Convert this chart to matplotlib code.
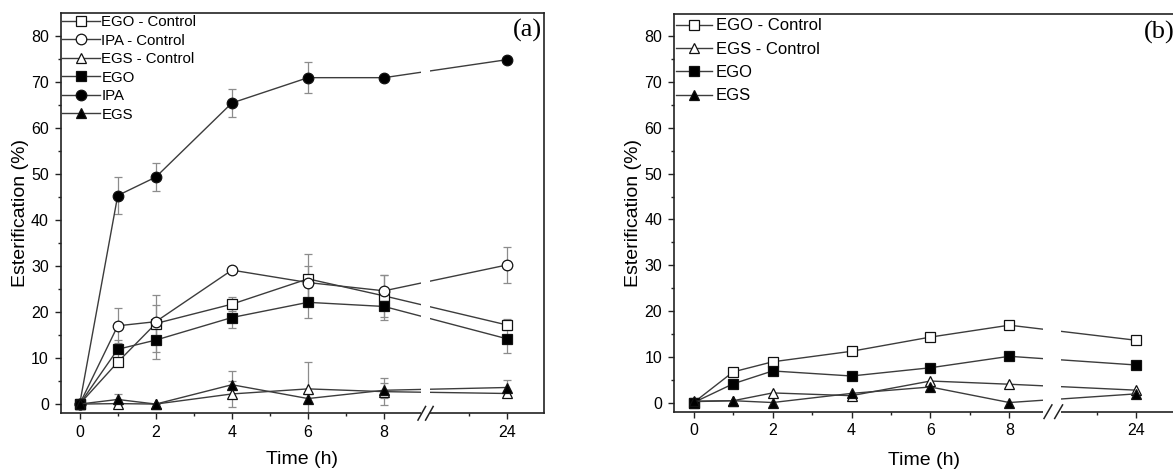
import matplotlib
matplotlib.use("Agg")
import matplotlib.pyplot as plt
import numpy as np

plt.rcParams['font.family'] = ['Liberation Sans', 'DejaVu Sans']

# ---------------- data ----------------
times = [0, 1, 2, 4, 6, 8, 24]
tick_times = [0, 2, 4, 6, 8, 24]
minor_times = [1, 3, 5, 7, 23]

# panel (a)
ego_ctrl_a = [0, 9.1, 17.5, 21.7, 27.2, 23.5, 17.2]
ego_ctrl_a_err = [0, 0.8, 6.2, 1.5, 5.3, 4.5, 1.2]
ipa_ctrl_a = [0, 17.0, 17.9, 29.1, 26.4, 24.6, 30.2]
ipa_ctrl_a_err = [0, 3.8, 3.6, 0.6, 3.7, 3.4, 4.0]
egs_ctrl_a = [0, 0.1, 0, 2.2, 3.3, 2.7, 2.3]
egs_ctrl_a_err = [0, 0.3, 0, 2.8, 5.8, 3.0, 0.5]
ego_a = [0, 11.9, 13.9, 18.8, 22.1, 21.2, 14.2]
ego_a_err = [0, 2.0, 4.1, 2.3, 3.3, 3.0, 3.0]
ipa_a = [0, 45.3, 49.3, 65.4, 70.9, 70.9, 74.8]
ipa_a_err = [0, 4.0, 3.1, 3.1, 3.3, 0, 0]
egs_a = [0, 1.0, 0, 4.2, 1.2, 3.0, 3.6]
egs_a_err = [0, 1.2, 0, 2.9, 1.0, 1.6, 1.6]

# panel (b)
ego_ctrl_b = [0, 6.7, 8.9, 11.2, 14.3, 16.9, 13.6]
egs_ctrl_b = [0.2, 0.4, 2.1, 1.5, 4.7, 4.0, 2.7]
ego_b = [0, 4.1, 6.9, 5.8, 7.6, 10.1, 8.2]
egs_b = [0.3, 0.4, 0, 2.0, 3.4, 0, 1.9]

BREAK_OFFSET = 12.78  # broken axis: 24 h drawn right after 8 h


def pos(t):
    t = np.asarray(t, dtype=float)
    return np.where(t > 9, t - BREAK_OFFSET, t)


LINE_C = '#3c3c3c'
ERR_C = '#8c8c8c'
EDGE_C = '#111111'

styles = {
    'EGO - Control': dict(marker='s', mfc='white'),
    'IPA - Control': dict(marker='o', mfc='white'),
    'EGS - Control': dict(marker='^', mfc='white'),
    'EGO': dict(marker='s', mfc='black'),
    'IPA': dict(marker='o', mfc='black'),
    'EGS': dict(marker='^', mfc='black'),
}
msizes = {'s': 6.5, 'o': 7.6, '^': 7.5}

fig = plt.figure(figsize=(11.73, 4.69), dpi=100)
ax_a = fig.add_axes([0.0517, 0.1188, 0.412, 0.854])
ax_b = fig.add_axes([0.5746, 0.1222, 0.4271, 0.849])


def draw_series(ax, name, y, err=None):
    st = styles[name]
    x = pos(times)
    if err is not None:
        ax.errorbar(x, y, yerr=err, fmt='none', ecolor=ERR_C, elinewidth=0.9,
                    capsize=2.6, capthick=0.9, zorder=1)
    ax.plot(x, y, color=LINE_C, lw=1.0, marker=st['marker'],
            ms=msizes[st['marker']], mfc=st['mfc'], mec=EDGE_C, mew=0.9,
            label=name, zorder=4)


def style_axes(ax, gap, slashes, label_text, label_pos, xlabelpad):
    ax.set_xlim(-0.5, 12.2)
    ax.set_ylim(-2, 85)
    ax.set_xticks(pos(tick_times))
    ax.set_xticklabels([str(t) for t in tick_times])
    ax.set_xticks(pos(minor_times), minor=True)
    ax.set_yticks(np.arange(0, 81, 10))
    ax.set_yticks(np.arange(5, 81, 10), minor=True)
    ax.tick_params(axis='both', which='major', direction='out', length=4.3,
                   width=1.0, labelsize=11.5, pad=4.2, color='#222222')
    ax.tick_params(axis='both', which='minor', direction='out', length=2.5,
                   width=1.0, color='#222222')
    for sp in ax.spines.values():
        sp.set_linewidth(1.2)
        sp.set_color('#222222')
    ax.set_xlabel('Time (h)', fontsize=14, labelpad=xlabelpad)
    ax.set_ylabel('Esterification (%)', fontsize=14, labelpad=1.5)
    # gap for the axis break
    ax.axvspan(gap[0], gap[1], ymin=-0.03, ymax=0.99, color='white',
               zorder=5, clip_on=False, lw=0)
    tr = ax.get_xaxis_transform()
    for sx in slashes:
        ax.plot([sx - 0.1, sx + 0.1], [-0.017, 0.017], color='#222222',
                lw=1.1, transform=tr, clip_on=False, zorder=6)
    ax.text(label_pos[0], label_pos[1], label_text, transform=ax.transAxes,
            ha='right', va='center', fontsize=19,
            family=['Liberation Serif', 'DejaVu Serif'])


# panel (a)
draw_series(ax_a, 'EGO - Control', ego_ctrl_a, ego_ctrl_a_err)
draw_series(ax_a, 'IPA - Control', ipa_ctrl_a, ipa_ctrl_a_err)
draw_series(ax_a, 'EGS - Control', egs_ctrl_a, egs_ctrl_a_err)
draw_series(ax_a, 'EGO', ego_a, ego_a_err)
draw_series(ax_a, 'IPA', ipa_a, ipa_a_err)
draw_series(ax_a, 'EGS', egs_a, egs_a_err)
style_axes(ax_a, (8.97, 9.2), (8.99, 9.19), '(a)', (0.996, 0.955), 8)
ax_a.legend(loc='upper left', bbox_to_anchor=(0, 0.998), frameon=False,
            fontsize=10.8, handlelength=2.5, handletextpad=0.12,
            labelspacing=0.3, borderpad=0.1, borderaxespad=0.0)

# panel (b)
draw_series(ax_b, 'EGO - Control', ego_ctrl_b)
draw_series(ax_b, 'EGS - Control', egs_ctrl_b)
draw_series(ax_b, 'EGO', ego_b)
draw_series(ax_b, 'EGS', egs_b)
style_axes(ax_b, (8.85, 9.3), (8.98, 9.25), '(b)', (0.999, 0.953), 9.5)
ax_b.spines['right'].set_visible(False)
ax_b.legend(loc='upper left', bbox_to_anchor=(0, 0.992), frameon=False,
            fontsize=12, handlelength=2.2, handletextpad=0.2,
            labelspacing=0.5, borderpad=0.1, borderaxespad=0.0)

fig.savefig('out.png', dpi=100)
